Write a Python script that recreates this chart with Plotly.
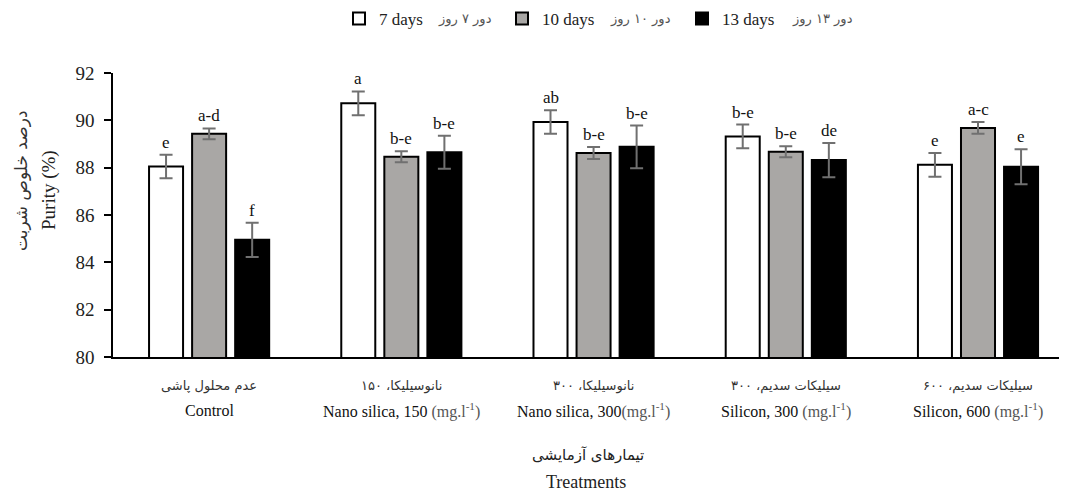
import plotly.graph_objects as go

# ---------------- data ----------------
categories = ["Control", "Nano silica, 150", "Nano silica, 300", "Silicon, 300", "Silicon, 600"]
persian_labels = ["عدم محلول پاشی", "نانوسیلیکا، ۱۵۰", "نانوسیلیکا، ۳۰۰", "سیلیکات سدیم، ۳۰۰", "سیلیکات سدیم، ۶۰۰"]
english_labels = [
    "Control",
    "Nano silica, 150 <span style='color:#555'>(mg.l<sup>-1</sup>)</span>",
    "Nano silica, 300<span style='color:#555'>(mg.l<sup>-1</sup>)</span>",
    "Silicon, 300 <span style='color:#555'>(mg.l<sup>-1</sup>)</span>",
    "Silicon, 600 <span style='color:#555'>(mg.l<sup>-1</sup>)</span>",
]
series_names = ["7 days", "10 days", "13 days"]
persian_series = ["دور ۷ روز", "دور ۱۰ روز", "دور ۱۳ روز"]

purity_7 = [88.05, 90.72, 89.93, 89.32, 88.12]
purity_10 = [89.43, 88.46, 88.62, 88.67, 89.68]
purity_13 = [84.95, 88.65, 88.88, 88.32, 88.04]
err_7 = [0.50, 0.50, 0.50, 0.50, 0.50]
err_10 = [0.23, 0.23, 0.25, 0.23, 0.25]
err_13 = [0.72, 0.70, 0.90, 0.72, 0.74]
letters_7 = ["e", "a", "ab", "b-e", "e"]
letters_10 = ["a-d", "b-e", "b-e", "b-e", "a-c"]
letters_13 = ["f", "b-e", "b-e", "de", "e"]

y_title_en = "Purity (%)"
y_title_fa = "درصد خلوص شربت"
x_title_en = "Treatments"
x_title_fa = "تیمارهای آزمایشی"

# ---------------- style ----------------
W, H = 1067, 497
OFF = 8                      # page offset of the figure inside the browser window
SL, SR, ST, SB = 113, 1067, 73, 357   # plot area as seen in the window
ML, MR, MT, MB = SL - OFF, W - (SR - OFF), ST - OFF, H - (SB - OFF)
SERIF = "Liberation Serif, Times New Roman, DejaVu Serif, serif"
FA = "DejaVu Sans, Noto Sans, sans-serif"
fills = ["#ffffff", "#a9a7a5", "#000000"]
BARGAP = 0.328
XR = [-0.5, 4.463]


def ltr_words(s):
    # each Persian word embedded right-to-left, words kept in the figure's left-to-right order
    return " ".join("\u202b" + x + "\u202c" for x in s.split(" "))


values = [purity_7, purity_10, purity_13]
errors = [err_7, err_10, err_13]
letters = [letters_7, letters_10, letters_13]

fig = go.Figure()
legend_ids = ["legend", "legend2", "legend3"]
for i in range(3):
    fig.add_trace(go.Bar(
        x=categories, y=values[i], name=series_names[i],
        marker=dict(color=fills[i], line=dict(color="#000000", width=2)),
        error_y=dict(type="data", array=errors[i], visible=True,
                     color="#707070", thickness=2, width=6.5),
        legend=legend_ids[i], showlegend=True,
    ))

plot_w = SR - SL
px_per_unit = plot_w / (XR[1] - XR[0])
slot_px = (1 - BARGAP) / 3 * px_per_unit

ann = []
for i in range(3):
    for j, c in enumerate(categories):
        ann.append(dict(x=c, y=values[i][j] + errors[i][j], xref="x", yref="y",
                        text=letters[i][j], showarrow=False, yanchor="bottom", xanchor="center",
                        xshift=(i - 1) * slot_px, yshift=1,
                        font=dict(family=SERIF, size=17, color="#111")))


def py(p):
    return (SB - p) / (SB - ST)


def px(p):
    return (p - SL) / plot_w


for j, c in enumerate(categories):
    ann.append(dict(x=c, y=py(386), xref="x", yref="paper", text=ltr_words(persian_labels[j]),
                    showarrow=False, yanchor="middle", xanchor="center",
                    font=dict(family=FA, size=13, color="#333")))
    ann.append(dict(x=c, y=py(410), xref="x", yref="paper", text=english_labels[j],
                    showarrow=False, yanchor="middle", xanchor="center",
                    font=dict(family=SERIF, size=16, color="#111")))

ann.append(dict(x=px(588), y=py(455), xref="paper", yref="paper", text=ltr_words(x_title_fa),
                showarrow=False, xanchor="center", yanchor="middle",
                font=dict(family=FA, size=15, color="#222")))
ann.append(dict(x=px(586), y=py(482), xref="paper", yref="paper", text=x_title_en,
                showarrow=False, xanchor="center", yanchor="middle",
                font=dict(family=SERIF, size=18, color="#222")))
ann.append(dict(x=px(21), y=py(181), xref="paper", yref="paper", text=y_title_fa,
                showarrow=False, textangle=-90, xanchor="center", yanchor="middle",
                font=dict(family=FA, size=17, color="#333")))
ann.append(dict(x=px(49), y=py(190), xref="paper", yref="paper", text=y_title_en,
                showarrow=False, textangle=-90, xanchor="center", yanchor="middle",
                font=dict(family=SERIF, size=19, color="#222")))

for k, cx in enumerate([465, 640, 822]):
    ann.append(dict(x=px(cx), y=py(19), xref="paper", yref="paper", text=ltr_words(persian_series[k]),
                    showarrow=False, yanchor="middle", xanchor="center",
                    font=dict(family=FA, size=13, color="#555")))

leg_common = dict(orientation="h", yref="container", y=1 - (19 - OFF) / H, yanchor="middle",
                  xref="container", bgcolor="rgba(0,0,0,0)",
                  font=dict(family=SERIF, size=17, color="#222"))
leg_left = [339, 502, 682]

fig.update_layout(
    width=W, height=H,
    margin=dict(l=ML, r=MR, t=MT, b=MB, autoexpand=False),
    paper_bgcolor="white", plot_bgcolor="white",
    barmode="group", bargap=BARGAP, bargroupgap=0.21,
    font=dict(family=SERIF, color="#222"),
    xaxis=dict(range=XR, showline=True, linecolor="#000", linewidth=1.5,
               showticklabels=False, ticks="", showgrid=False, zeroline=False),
    yaxis=dict(range=[80, 92], dtick=2, ticks="outside", ticklen=7, tickwidth=1.5,
               tickcolor="#000", showline=True, linecolor="#000", linewidth=1.5,
               showgrid=False, zeroline=False, ticklabelstandoff=6,
               tickfont=dict(family=SERIF, size=19, color="#222")),
    legend=dict(x=(leg_left[0] - OFF) / W, **leg_common),
    legend2=dict(x=(leg_left[1] - OFF) / W, **leg_common),
    legend3=dict(x=(leg_left[2] - OFF) / W, **leg_common),
    annotations=ann,
    showlegend=True,
)

fig.write_html("out.html")
